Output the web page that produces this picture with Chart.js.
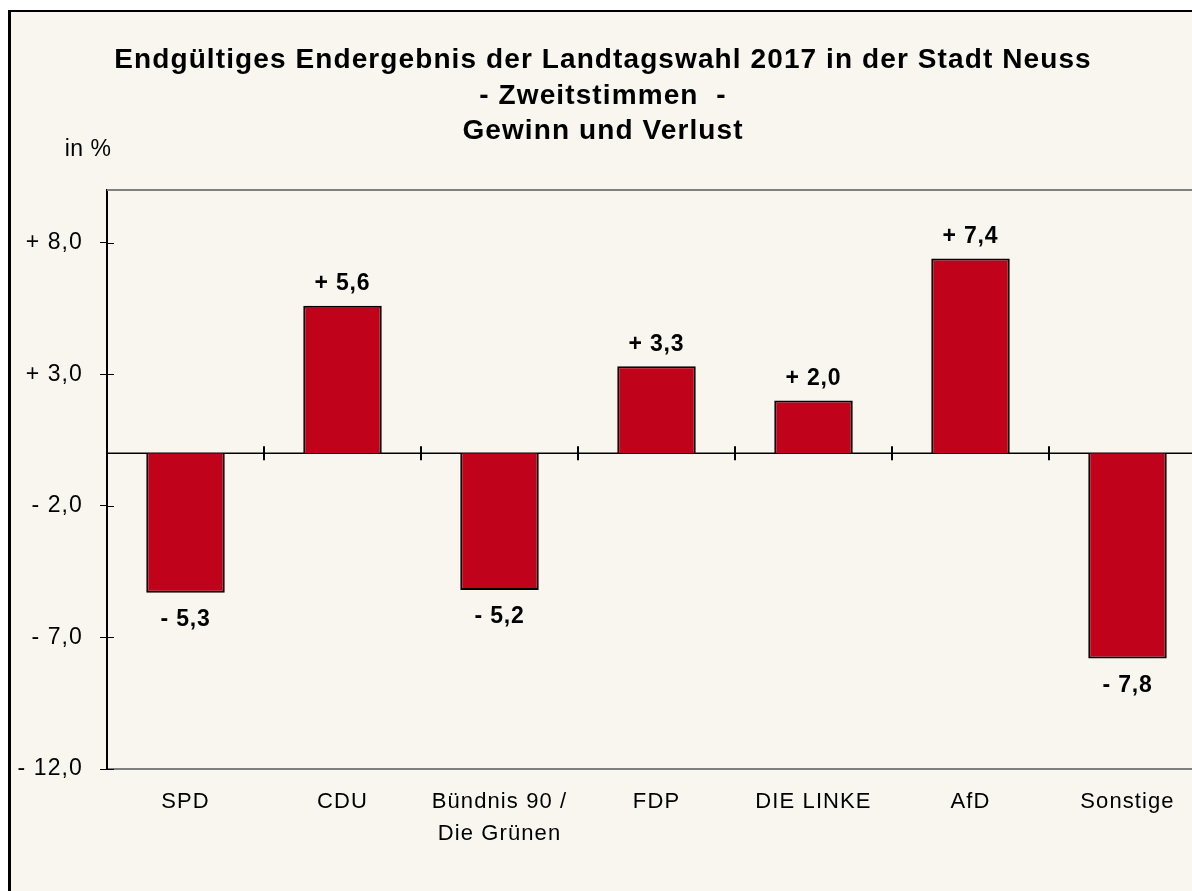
<!DOCTYPE html>
<html lang="de">
<head>
  <meta charset="UTF-8" />
  <title>Landtagswahl 2017 Neuss - Gewinn und Verlust</title>
  <script src="https://cdn.jsdelivr.net/npm/chart.js"></script>
  <style>
    html, body { margin: 0; padding: 0; background: #fff; overflow: hidden; }
    .frame {
      position: absolute; left: 8px; top: 10px; width: 1300px; height: 1000px;
      border-left: 3px solid #000; border-top: 2px solid #000; background: #f8f6ef;
    }
    .wrap { position: absolute; left: 0; top: 0; }
  </style>
</head>
<body>
  <div class="frame"></div>
  <div class="wrap"><canvas id="gvChart" width="1220" height="891"></canvas></div>

  <script>
    // Daten
    const parteien = ['SPD', 'CDU', ['Bündnis 90 /', 'Die Grünen'], 'FDP', 'DIE LINKE', 'AfD', 'Sonstige'];
    const differenz = [-5.3, 5.6, -5.2, 3.3, 2.0, 7.4, -7.8];
    const yTicks = [-12, -7, -2, 3, 8];
    const titelZeilen = ['Endgültiges Endergebnis der Landtagswahl 2017 in der Stadt Neuss', '- Zweitstimmen  -', 'Gewinn und Verlust'];

    const FONT = "'Liberation Sans', Arial, sans-serif";

    const fmt = (v, dec) => (v > 0 ? '+ ' : v < 0 ? '- ' : '') + Math.abs(v).toFixed(dec).replace('.', ',');

    // a bit of spacing like the original bitmap text
    const spacingPlugin = {
      id: 'spacing',
      beforeDraw(chart) { chart.ctx.letterSpacing = '1.1px'; }
    };

    // zero line, tick marks, frame lines, unit, value labels
    const marksPlugin = {
      id: 'marks',
      beforeDatasetsDraw(chart) {
        const { ctx, chartArea: a, scales: { x, y } } = chart;
        const y0 = y.getPixelForValue(0);
        ctx.save();
        ctx.strokeStyle = '#000';
        ctx.lineWidth = 1.5;
        ctx.beginPath();
        ctx.moveTo(a.left, y0);
        ctx.lineTo(a.right, y0);
        ctx.stroke();
        ctx.lineWidth = 2;
        for (let i = 1; i < parteien.length; i++) {
          const xb = (x.getPixelForValue(i - 1) + x.getPixelForValue(i)) / 2;
          ctx.beginPath();
          ctx.moveTo(xb, y0 - 7);
          ctx.lineTo(xb, y0 + 7);
          ctx.stroke();
        }
        ctx.lineWidth = 1;
        yTicks.forEach(v => {
          const yp = Math.round(y.getPixelForValue(v)) + 0.5;
          ctx.beginPath();
          ctx.moveTo(a.left, yp);
          ctx.lineTo(a.left + 7, yp);
          ctx.stroke();
        });
        ctx.strokeStyle = '#808080';
        ctx.lineWidth = 2;
        ctx.beginPath();
        ctx.moveTo(a.left, a.top);
        ctx.lineTo(a.right, a.top);
        ctx.lineTo(a.right, a.bottom);
        ctx.stroke();
        ctx.fillStyle = '#000';
        ctx.font = '23px ' + FONT;
        ctx.letterSpacing = '0.5px';
        ctx.textAlign = 'center';
        ctx.textBaseline = 'middle';
        ctx.fillText('in %', a.left - 19, a.top - 40);
        ctx.restore();
      },
      afterDatasetsDraw(chart) {
        const { ctx } = chart;
        const meta = chart.getDatasetMeta(0);
        ctx.save();
        ctx.fillStyle = '#000';
        ctx.font = 'bold 23px ' + FONT;
        ctx.letterSpacing = '0.8px';
        ctx.textAlign = 'center';
        ctx.textBaseline = 'middle';
        meta.data.forEach((bar, i) => {
          const v = differenz[i];
          const ty = v >= 0 ? bar.y - 22 : bar.y + 27;
          ctx.fillText(fmt(v, 1), bar.x, ty);
        });
        ctx.restore();
      }
    };

    new Chart(document.getElementById('gvChart'), {
      type: 'bar',
      data: {
        labels: parteien,
        datasets: [{
          data: differenz,
          backgroundColor: '#c0031b',
          borderColor: '#000',
          borderWidth: 2,
          barPercentage: 0.5,
          categoryPercentage: 1
        }]
      },
      options: {
        responsive: false,
        animation: false,
        layout: { padding: { left: 0, right: 14, top: 0, bottom: 0 } },
        plugins: {
          legend: { display: false },
          tooltip: { enabled: false },
          title: {
            display: true,
            text: titelZeilen,
            color: '#000',
            font: { family: FONT, size: 28, weight: 'bold', lineHeight: '35.5px' },
            padding: { top: 43, bottom: 40.5 }
          }
        },
        scales: {
          x: {
            grid: { display: false, drawTicks: false },
            border: { display: true, color: '#808080', width: 2 },
            ticks: {
              color: '#000',
              padding: 17,
              maxRotation: 0,
              autoSkip: false,
              font: { family: FONT, size: 22, lineHeight: '32px' }
            },
            afterFit(scale) { scale.height = 122; }
          },
          y: {
            min: -12,
            max: 10,
            afterBuildTicks(scale) { scale.ticks = yTicks.map(v => ({ value: v })); },
            grid: { drawOnChartArea: false, drawTicks: true, tickLength: 7, color: '#000', lineWidth: 1 },
            border: { display: true, color: '#000', width: 2 },
            ticks: {
              color: '#000',
              padding: 17,
              font: { family: FONT, size: 23 },
              callback: v => fmt(v, 1)
            },
            afterFit(scale) { scale.width = 107; }
          }
        }
      },
      plugins: [spacingPlugin, marksPlugin]
    });
  </script>
</body>
</html>
